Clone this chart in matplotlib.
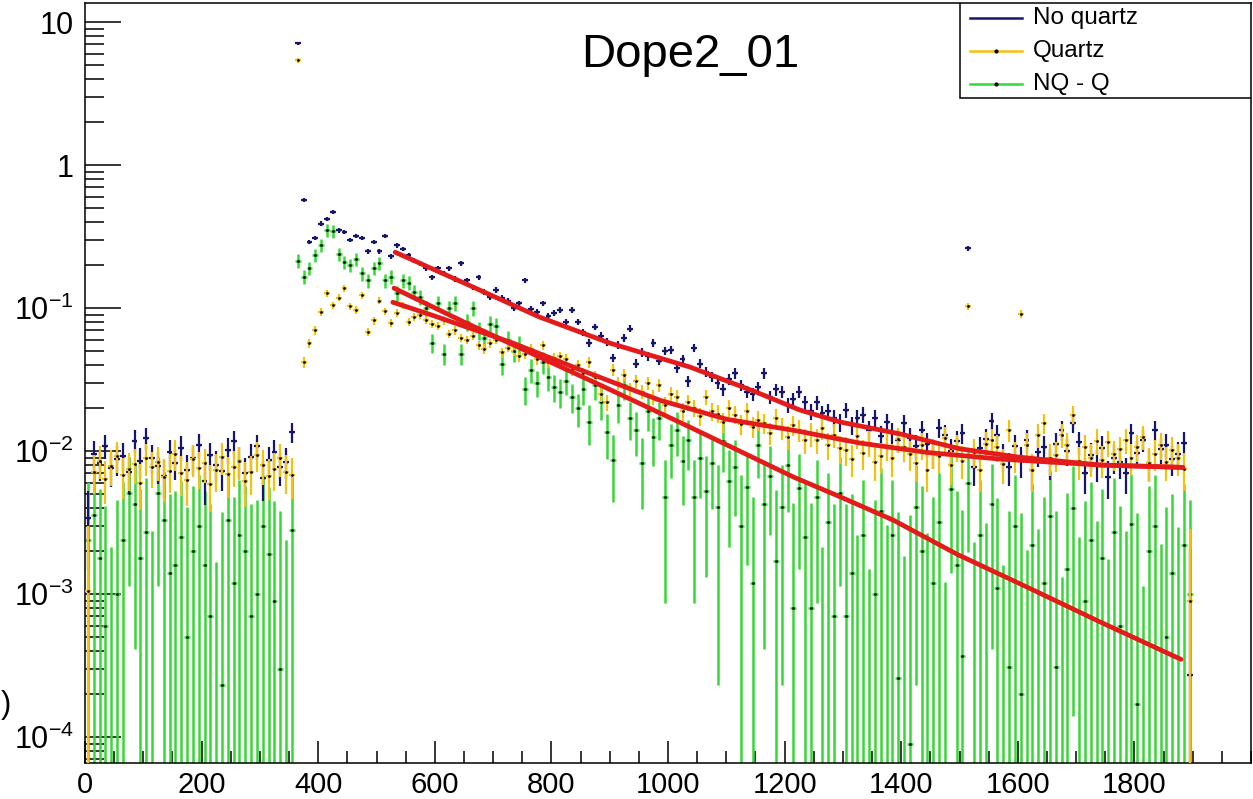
import numpy as np
import matplotlib
matplotlib.use("Agg")
import matplotlib.pyplot as plt
from matplotlib.ticker import LogLocator, NullFormatter

plt.rcParams['font.family'] = ['Liberation Sans', 'DejaVu Sans']
plt.rcParams['mathtext.fontset'] = 'custom'
plt.rcParams['mathtext.rm'] = 'Liberation Sans'
plt.rcParams['mathtext.it'] = 'Liberation Sans:italic'

# histogram binning (10-unit bins starting at 0)
bin_start = 0
bin_width = 10
unit = 1e-3  # bin contents below are given in units of 1e-3

# No quartz
nq = [3.4, 9.6, 8.2, 10.9, 7.6, 8.8, 9.3, 7.1, 11.8, 8.5, 12.4, 9.0, 7.9, 6.7, 9.8, 8.3, 10.6, 7.4,
      8.9, 11.1, 6.2, 9.4, 8.0, 7.3, 10.2, 11.7, 8.6, 7.0, 9.1, 10.8, 6.5, 8.7, 9.9, 7.7, 8.4, 13.6,
      7100, 570, 290, 310, 390, 420, 470, 350, 340, 300, 320, 310, 250, 290, 250, 320, 230, 275,
      260, 235, 215, 206, 190, 165, 190, 175, 190, 160, 206, 157, 140, 165, 130, 120, 134, 118,
      112, 100, 108, 157, 98, 94, 108, 88, 92,
      97, 80, 97, 80, 68, 57, 74, 64, 58, 45, 55, 62, 72, 41, 49, 46, 57, 43, 50, 51, 38, 44, 31,
      53, 41, 36, 33, 30, 27, 32, 35, 29, 26, 25, 28, 35, 24, 27, 26, 21, 23, 26, 22, 19, 22,
      18.5, 19, 17, 16,
      19.4, 15.2, 17.0, 18.0, 14.1, 17.0, 12.8, 16.0, 13.5, 11.9, 15.7, 12.4, 10.8, 14.0, 11.2,
      9.6, 14.5, 13.0, 10.1, 11.7, 13.4, 262, 7.7, 10.5, 12.2, 16.3, 13.0, 9.2, 7.7, 10.8, 8.6,
      12.0, 7.4, 9.9, 10.7, 8.3, 11.3, 14.0, 10.0, 15.7, 11.5, 7.0, 9.4, 8.1, 10.6, 6.6, 9.0,
      8.4, 7.0, 13.4, 9.7, 12.0, 8.2, 14.0, 10.3, 11.0, 8.8, 9.5, 11.4, 0.27]

# Quartz
qz = [1.05, 7.2, 8.6, 6.4, 7.9, 9.3, 6.8, 7.5, 8.1, 6.0, 9.0, 7.7, 8.4, 6.6, 7.3, 9.6, 7.0, 6.3,
      8.8, 7.6, 8.2, 5.9, 7.4, 9.1, 6.9, 7.8, 8.5, 6.2, 7.1, 9.4, 8.0, 6.7, 7.5, 8.9, 7.2, 6.8,
      5400, 42, 57, 70, 94, 127, 105, 118, 138, 103, 97, 123, 68, 82, 113, 95, 79, 93, 105, 80,
      87, 90, 83, 78, 75, 82, 66, 70, 62, 60, 64, 55, 52, 57, 60, 49, 53, 50, 46, 48, 52, 44, 55,
      42, 45,
      46, 44, 37, 40, 35, 42, 33, 25, 22, 37, 30, 34, 27, 31, 26, 30, 24, 29, 21, 25, 24, 19, 22,
      20, 17.5, 24, 19, 18.3, 16, 20, 18, 15.5, 19, 14.8, 16.5, 15.7, 13.4, 17, 14.5, 12.6, 15.2,
      14.0, 11.9, 13.2, 12.0, 14.5, 11.0, 13.0, 10.5,
      10.2, 8.8, 12.7, 9.7, 11.4, 8.4, 9.2, 10.9, 8.9, 12.1, 10.7, 9.5, 8.3, 11.0, 7.4, 9.8, 9.2,
      12.3, 8.0, 10.7, 8.6, 103, 9.9, 7.4, 11.3, 12.0, 10.7, 8.1, 14.0, 9.3, 91, 11.0, 7.4, 13.0,
      15.7, 9.0, 9.4, 13.0, 11.0, 18.0, 8.5, 10.7, 8.9, 11.8, 8.7, 11.5, 9.5, 10.3, 12.0, 9.0,
      10.7, 12.6, 8.3, 9.6, 11.0, 8.4, 10.2, 9.0, 7.5, 0.9]

# NQ - Q
diff = [2.4, 3.6, 1.8, 0.6, -1.5, 1.0, 2.4, 5.1, 4.3, 1.8, 2.7, -0.8, 5.1, 3.3, 1.4, 1.6, 2.5, 0.5,
        2.0, 3.0, 1.6, 0.7, -2.0, 0.23, 3.3, 1.2, 2.6, 2.0, 0.7, 1.0, 3.0, 1.9, 0.9, 0.3, -1.2, 2.8,
        215, 165, 190, 235, 275, 350, 345, 240, 210, 200, 220, 175, 157, 190, 206, 157, 165, 127,
        157, 150, 130, 120, 100, 57, 108, 48, 100, 108, 48, 80, 100, 70, 62, 78, 75, 41, 60, 50,
        55, 27, 37, 30, 42, 33, 28,
        26, 31, 24, 20, 27, 16, 29, 22, 13.6, 8.7, 21, 29, 17, 14, 8.2, 19, 12.5, 17, 4.8, 11, 14,
        8.5, 12, 4.8, 9, 5.3, 8.2, 4.1, 11.7, 6.2, 7.7, 3.0, 5.6, 1.2, 11, 4.3, 6.7, 1.7, 4.1, 8.0,
        0.8, 5.5, 2.5, 0.8, 4.8, -1.5, 3.2, 0.7, 5.1,
        0.7, 1.4, -1.0, 2.6, -2.2, 1.0, 3.8, -0.5, 2.6, 0.26, -1.8, 0.09, 4.1, 2.0, -0.9, 1.2, 3.2,
        -2.5, 5.4, 1.6, 0.37, 6.0, -1.3, 2.6, -0.4, 4.3, 1.1, -2.1, 0.31, 3.0, 0.2, -1.6, 2.2, -0.7,
        1.2, 3.5, 0.31, -2.4, 1.5, 4.0, -1.1, 0.9, 2.4, -0.3, 1.8, -1.9, 2.7, 0.6, -0.8, 3.1, 0.17,
        -2.6, 2.0, 3.0, -1.4, 0.5, 1.4, -0.6, 2.2, 1.0]

# fitted curves
fit_nq_x = [532, 650, 780, 900, 1038, 1150, 1226, 1295, 1398, 1500, 1600, 1741, 1883]
fit_nq_y = [0.246, 0.150, 0.0865, 0.057, 0.0387, 0.026, 0.0194, 0.0160, 0.0132, 0.0104, 0.0091, 0.0080, 0.0077]
fit_q_x = [528, 600, 734, 850, 986, 1101, 1215, 1329, 1444, 1570, 1741, 1883]
fit_q_y = [0.110, 0.088, 0.057, 0.037, 0.0227, 0.0167, 0.0140, 0.0114, 0.0098, 0.0088, 0.0080, 0.0077]
fit_d_x = [530, 650, 780, 900, 1038, 1215, 1295, 1386, 1496, 1616, 1741, 1880]
fit_d_y = [0.138, 0.080, 0.0454, 0.027, 0.0147, 0.0066, 0.0048, 0.0033, 0.0019, 0.00112, 0.00064, 0.00035]

y_ticks = [1e-4, 1e-3, 1e-2, 1e-1, 1, 10]
y_tick_labels = [r'$10^{-4}$', r'$10^{-3}$', r'$10^{-2}$', r'$10^{-1}$', '1', '10']
x_ticks = [0, 200, 400, 600, 800, 1000, 1200, 1400, 1600, 1800]

NAVY = '#16166e'
YELLOW = '#f4c20d'
GREEN = '#35d935'
RED = '#e41b1b'


def draw_hist(ax, vals, err_abs, err_rel, color, mcolor, z, lw=1.6):
    v = np.array(vals) * unit
    x = bin_start + bin_width * (np.arange(len(v)) + 0.5)
    err = err_abs + err_rel * np.abs(v)
    lo = np.clip(v - err, 1e-8, None)
    hi = v + err
    show = hi > 0
    ax.vlines(x[show], lo[show], hi[show], color=color, lw=lw, zorder=z)
    pos = v > 0
    ax.hlines(v[pos], x[pos] - bin_width / 2, x[pos] + bin_width / 2, color=color, lw=lw, zorder=z)
    ax.plot(x[pos], v[pos], 'o', ms=2.0, mec='none', color=mcolor, zorder=z + 0.5)


fig = plt.figure(figsize=(12.53, 7.99), dpi=100)
ax = fig.add_axes([85 / 1253, 36 / 799, 1166 / 1253, 760 / 799])
ax.set_yscale('log')

draw_hist(ax, diff, 0.0035, 0.09, GREEN, 'black', 2, lw=1.8)
draw_hist(ax, nq, 0.0018, 0.03, NAVY, NAVY, 3)
draw_hist(ax, qz, 0.0019, 0.04, YELLOW, 'black', 4)

for fx, fy in [(fit_nq_x, fit_nq_y), (fit_q_x, fit_q_y), (fit_d_x, fit_d_y)]:
    ax.plot(fx, fy, '-', color=RED, lw=3.4, zorder=6, solid_capstyle='round')

ax.set_xlim(0, 2000)
ax.set_ylim(6.6e-5, 13.6)
ax.set_xticks(x_ticks)
ax.set_xticks(np.arange(0, 2001, 50), minor=True)
ax.set_yticks(y_ticks)
ax.set_yticklabels(y_tick_labels)
ax.yaxis.set_minor_locator(LogLocator(base=10, subs=np.arange(2, 10), numticks=20))
ax.yaxis.set_minor_formatter(NullFormatter())
ax.tick_params(axis='x', which='major', direction='in', length=16, width=1.1, labelsize=21, pad=6)
ax.tick_params(axis='x', which='minor', direction='in', length=9, width=1.1)
ax.tick_params(axis='y', which='major', direction='in', length=26, width=1.1, labelsize=22, pad=8)
ax.tick_params(axis='y', which='minor', direction='in', length=13.5, width=1.1)
for s in ax.spines.values():
    s.set_linewidth(1.1)

ax.text(0.519, 0.916, 'Dope2_01', transform=ax.transAxes, ha='center', va='baseline', fontsize=34)

# legend box, ROOT style
leg_entries = [('No quartz', NAVY, False), ('Quartz', YELLOW, True), ('NQ - Q', GREEN, True)]
ax.add_patch(plt.Rectangle((0.750, 0.875), 0.25, 0.125, transform=ax.transAxes, fill=True,
                           fc='white', ec='black', lw=1.1, zorder=10))
for k, (lab, col, dot) in enumerate(leg_entries):
    yy = 0.980 - k * 0.043
    ax.plot([0.759, 0.804], [yy, yy], color=col, lw=1.8, transform=ax.transAxes, zorder=11)
    if dot:
        ax.plot([0.7815], [yy], 'o', ms=2, color='black', transform=ax.transAxes, zorder=12)
    ax.text(0.813, yy, lab, transform=ax.transAxes, fontsize=17.5, va='center', ha='left', zorder=12)

fig.text(0.0005, 0.118, ')', fontsize=22, ha='left', va='center')

fig.savefig('out.png', dpi=100)
